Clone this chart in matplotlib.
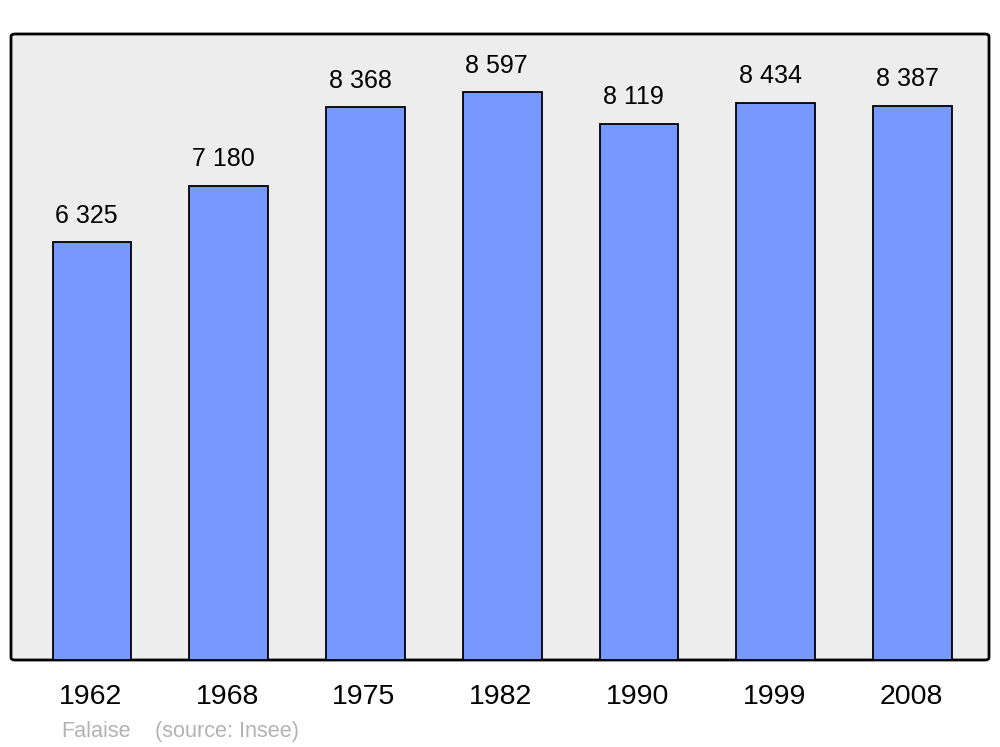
import matplotlib
matplotlib.use("Agg")
import matplotlib.pyplot as plt
from matplotlib.patches import FancyBboxPatch

# ── data ────────────────────────────────────────────
years = ["1962", "1968", "1975", "1982", "1990", "1999", "2008"]
population = [6325, 7180, 8368, 8597, 8119, 8434, 8387]
value_labels = ["6 325", "7 180", "8 368", "8 597", "8 119", "8 434", "8 387"]
town = "Falaise"
source = "(source: Insee)"

plt.rcParams["font.family"] = ["Liberation Sans", "DejaVu Sans"]

fig = plt.figure(figsize=(10, 7.47), dpi=100)
# axes box: x 11..989, y 34..660 (pixels)
ax = fig.add_axes([11 / 1000, 1 - 660 / 747, 978 / 1000, 626 / 747])
ax.set_facecolor("none")
for s in ax.spines.values():
    s.set_visible(False)

# rounded grey background with black border
bg = FancyBboxPatch((0, 0), 1, 1, boxstyle="round,pad=0,rounding_size=0.004",
                    transform=ax.transAxes, facecolor="#ededed",
                    edgecolor="black", linewidth=2, zorder=0, clip_on=False)
ax.add_patch(bg)

x = range(len(years))
ax.bar(x, population, width=0.575, color="#7799ff", edgecolor="black",
       linewidth=1.3, zorder=2)

for xi, val, lab in zip(x, population, value_labels):
    ax.annotate(lab, (xi - 0.04, val), xytext=(0, 19), textcoords="offset points",
                ha="center", va="center", fontsize=18, color="black")

ax.set_xlim(-0.592, 6.559)
ax.set_ylim(0, 9475)
ax.set_yticks([])
ax.set_xticks([xi - 0.012 for xi in x])
ax.set_xticklabels(years, fontsize=20.5)
ax.tick_params(axis="x", length=0, pad=17)

# source line, shared baseline
fig.text(61 / 1000, 1 - 737 / 747, town, fontsize=15.6, color="#b3b3b3",
         ha="left", va="baseline")
fig.text(155 / 1000, 1 - 737 / 747, source, fontsize=15.6, color="#b3b3b3",
         ha="left", va="baseline")

fig.savefig("out.png", dpi=100)
